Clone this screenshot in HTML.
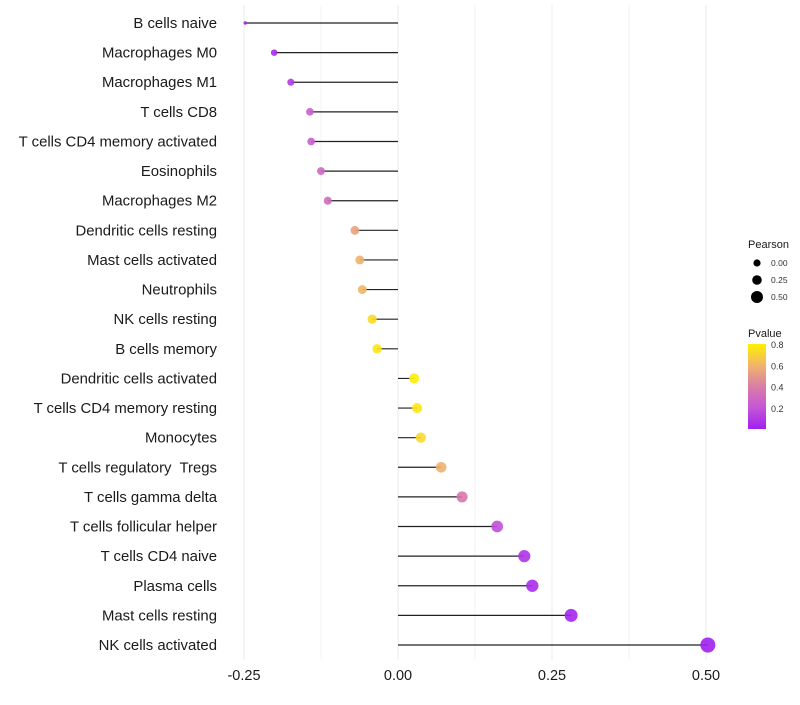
<!DOCTYPE html>
<html><head><meta charset="utf-8"><style>
body{margin:0;background:#fff;font-family:"Liberation Sans",sans-serif}
text{white-space:pre}
</style></head><body>
<svg id="chart" width="800" height="700" xmlns="http://www.w3.org/2000/svg" font-family="Liberation Sans, sans-serif"></svg>
<script>
const categories=["B cells naive","Macrophages M0","Macrophages M1","T cells CD8","T cells CD4 memory activated","Eosinophils","Macrophages M2","Dendritic cells resting","Mast cells activated","Neutrophils","NK cells resting","B cells memory","Dendritic cells activated","T cells CD4 memory resting","Monocytes","T cells regulatory  Tregs","T cells gamma delta","T cells follicular helper","T cells CD4 naive","Plasma cells","Mast cells resting","NK cells activated"];
const pearson=[-0.248,-0.201,-0.174,-0.143,-0.141,-0.125,-0.114,-0.070,-0.062,-0.058,-0.042,-0.034,0.026,0.031,0.037,0.070,0.104,0.161,0.205,0.218,0.281,0.503];
const pvalue=[0.0,0.05,0.1,0.25,0.25,0.3,0.32,0.55,0.6,0.62,0.75,0.78,0.81,0.79,0.74,0.6,0.38,0.18,0.08,0.05,0.02,0.0];
const xTicks=[-0.25,0,0.25,0.5];
const xTickLabels=["-0.25","0.00","0.25","0.50"];
const sizeBreaks=[0,0.25,0.5];
const sizeLabels=["0.00","0.25","0.50"];
const colorTicks=[0.2,0.4,0.6,0.8];

const NS="http://www.w3.org/2000/svg";
const svg=document.getElementById("chart");
function mk(t,a){const e=document.createElementNS(NS,t);for(const k in a)e.setAttribute(k,a[k]);svg.appendChild(e);return e;}
const x=v=>398+v*616;
const y=i=>23+i*(622/21);
const r=v=>v<-0.23?1.7:Math.sqrt(Math.max(1,23.9+64.8*v));
const stops=[[0,[160,32,240]],[0.2,[196,85,216]],[0.4,[216,124,168]],[0.6,[240,176,112]],[0.82,[255,240,0]]];
function col(p){p=Math.min(0.82,Math.max(0,p));for(let i=0;i<stops.length-1;i++){const[a,c1]=stops[i],[b,c2]=stops[i+1];if(p<=b){const t=(p-a)/(b-a);return "rgb("+c1.map((c,j)=>Math.round(c+(c2[j]-c)*t)).join(",")+")";}}return "rgb(255,240,0)";}

for(let g=-0.25;g<=0.5001;g+=0.125){
 const l=mk("line",{x1:x(g),x2:x(g),y1:5,y2:660,stroke:"#ebebeb","stroke-width":Math.abs(g*4-Math.round(g*4))<1e-6?1:0.6});
 
 
}
xTicks.forEach((t,i)=>{
 const e=mk("text",{x:x(t),y:680,"text-anchor":"middle","font-size":14.5,fill:"#1a1a1a"});e.textContent=xTickLabels[i];
 
 
});
categories.forEach((c,i)=>{
 const t=mk("text",{x:217,y:y(i)+5,"text-anchor":"end","font-size":14.9,fill:"#1a1a1a"});t.textContent=c;
 
 
 const l=mk("line",{x1:x(0),x2:x(pearson[i]),y1:y(i),y2:y(i),stroke:"#222","stroke-width":1.2});
 
 
 const d=mk("circle",{cx:x(pearson[i]),cy:y(i),r:r(pearson[i]),fill:col(pvalue[i]),"fill-opacity":0.9});
 
 
});
// legend
let e=mk("text",{x:748,y:248,"font-size":11,fill:"#1a1a1a"});e.textContent="Pearson";


const legR=[3.6,4.8,6];
sizeBreaks.forEach((s,i)=>{
 const cy=263+i*17;
 const c=mk("circle",{cx:757,cy:cy,r:legR[i],fill:"#000"});
 
 
 const t=mk("text",{x:771,y:cy+3,"font-size":8.5,fill:"#333"});t.textContent=sizeLabels[i];
 
 
});
e=mk("text",{x:748,y:337,"font-size":11,fill:"#1a1a1a"});e.textContent="Pvalue";


const defs=mk("defs",{});
const lg=document.createElementNS(NS,"linearGradient");lg.setAttribute("id","pg");lg.setAttribute("x1","0");lg.setAttribute("y1","1");lg.setAttribute("x2","0");lg.setAttribute("y2","0");
stops.forEach(s=>{const st=document.createElementNS(NS,"stop");st.setAttribute("offset",s[0]/0.82);st.setAttribute("stop-color","rgb("+s[1].join(",")+")");lg.appendChild(st);});
defs.appendChild(lg);
const bar=mk("rect",{x:748,y:344,width:18,height:85,fill:"url(#pg)"});


colorTicks.forEach(p=>{
 const cy=429-(p-0.01)/0.8*85;
 const t=mk("text",{x:771,y:cy+3,"font-size":9,fill:"#333"});t.textContent=p.toFixed(1);
 
 
});
</script>
</body></html>
